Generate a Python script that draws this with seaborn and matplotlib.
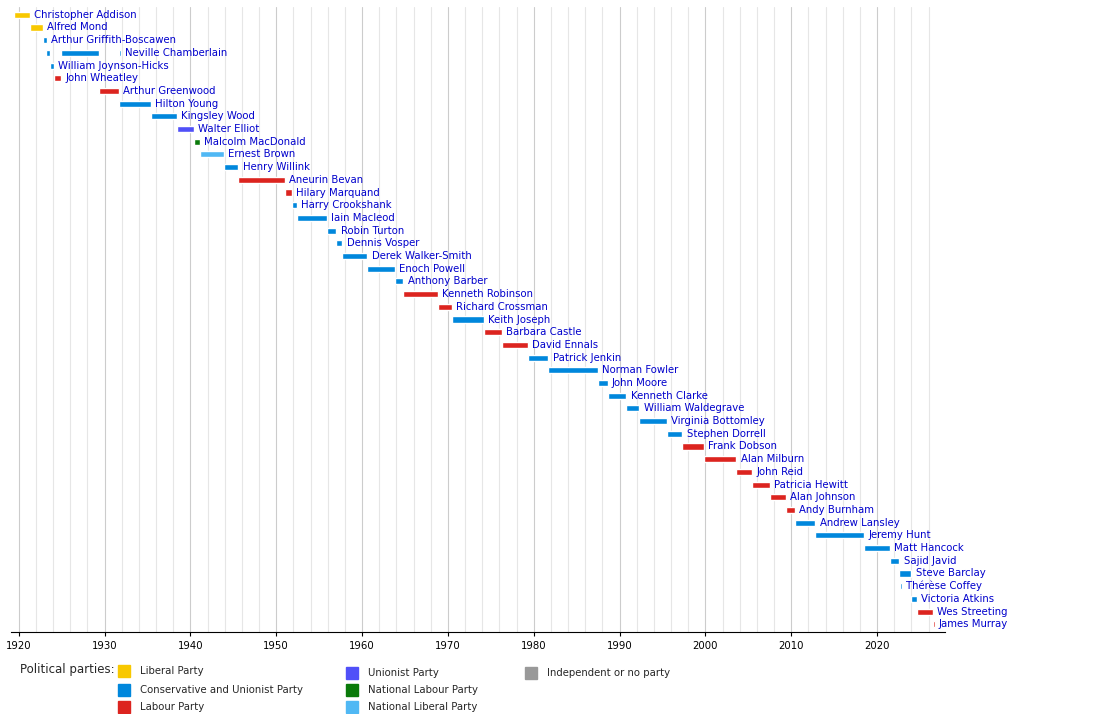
import matplotlib.pyplot as plt
from matplotlib.patches import Rectangle
import seaborn as sns

names = ["Christopher Addison", "Alfred Mond", "Arthur Griffith-Boscawen", "Neville Chamberlain",
         "William Joynson-Hicks", "John Wheatley", "Arthur Greenwood", "Hilton Young", "Kingsley Wood",
         "Walter Elliot", "Malcolm MacDonald", "Ernest Brown", "Henry Willink", "Aneurin Bevan",
         "Hilary Marquand", "Harry Crookshank", "Iain Macleod", "Robin Turton", "Dennis Vosper",
         "Derek Walker-Smith", "Enoch Powell", "Anthony Barber", "Kenneth Robinson", "Richard Crossman",
         "Keith Joseph", "Barbara Castle", "David Ennals", "Patrick Jenkin", "Norman Fowler", "John Moore",
         "Kenneth Clarke", "William Waldegrave", "Virginia Bottomley", "Stephen Dorrell", "Frank Dobson",
         "Alan Milburn", "John Reid", "Patricia Hewitt", "Alan Johnson", "Andy Burnham", "Andrew Lansley",
         "Jeremy Hunt", "Matt Hancock", "Sajid Javid", "Steve Barclay", "Thérèse Coffey", "Victoria Atkins",
         "Wes Streeting", "James Murray"]

# terms: (row, start, end, party)
terms = [
    (0, 1919.5, 1921.3, "Lib"), (1, 1921.3, 1922.8, "Lib"), (2, 1922.8, 1923.3, "Con"),
    (3, 1923.2, 1923.7, "Con"), (3, 1924.9, 1929.4, "Con"), (3, 1931.7, 1931.9, "Con"),
    (4, 1923.7, 1924.1, "Con"), (5, 1924.1, 1924.9, "Lab"), (6, 1929.4, 1931.7, "Lab"),
    (7, 1931.7, 1935.4, "Con"), (8, 1935.4, 1938.4, "Con"), (9, 1938.4, 1940.4, "Uni"),
    (10, 1940.4, 1941.1, "NatLab"), (11, 1941.1, 1943.9, "NatLib"), (12, 1943.9, 1945.6, "Con"),
    (13, 1945.6, 1951.0, "Lab"), (14, 1951.0, 1951.8, "Lab"), (15, 1951.8, 1952.4, "Con"),
    (16, 1952.4, 1955.9, "Con"), (17, 1955.9, 1957.0, "Con"), (18, 1957.0, 1957.7, "Con"),
    (19, 1957.7, 1960.6, "Con"), (20, 1960.6, 1963.8, "Con"), (21, 1963.8, 1964.8, "Con"),
    (22, 1964.8, 1968.8, "Lab"), (23, 1968.8, 1970.5, "Lab"), (24, 1970.5, 1974.2, "Con"),
    (25, 1974.2, 1976.3, "Lab"), (26, 1976.3, 1979.3, "Lab"), (27, 1979.3, 1981.7, "Con"),
    (28, 1981.7, 1987.5, "Con"), (29, 1987.5, 1988.6, "Con"), (30, 1988.6, 1990.8, "Con"),
    (31, 1990.8, 1992.3, "Con"), (32, 1992.3, 1995.5, "Con"), (33, 1995.5, 1997.3, "Con"),
    (34, 1997.3, 1999.8, "Lab"), (35, 1999.8, 2003.6, "Lab"), (36, 2003.6, 2005.4, "Lab"),
    (37, 2005.4, 2007.5, "Lab"), (38, 2007.5, 2009.4, "Lab"), (39, 2009.4, 2010.4, "Lab"),
    (40, 2010.4, 2012.8, "Con"), (41, 2012.8, 2018.5, "Con"), (42, 2018.5, 2021.5, "Con"),
    (43, 2021.5, 2022.6, "Con"), (44, 2022.6, 2024.0, "Con"), (45, 2022.7, 2022.9, "Con"),
    (46, 2023.9, 2024.6, "Con"), (47, 2024.6, 2026.5, "Lab"), (48, 2026.5, 2026.7, "Lab"),
]

party_names = {"Lib": "Liberal Party", "Con": "Conservative and Unionist Party", "Lab": "Labour Party",
               "Uni": "Unionist Party", "NatLab": "National Labour Party", "NatLib": "National Liberal Party",
               "Ind": "Independent or no party"}
party_colors = {"Lib": "#F8C800", "Con": "#0087DC", "Lab": "#DC241F", "Uni": "#5050F8",
                "NatLab": "#0A7A0A", "NatLib": "#50B8F4", "Ind": "#999999"}

sns.set_style("white")
plt.rcParams['font.family'] = ['DejaVu Sans']

fig = plt.figure(figsize=(11, 7.14), dpi=100)
ax = fig.add_axes([0.01, 0.115, 0.849, 0.875])

ax.set_xlim(1919.1, 2027.9)
ax.set_ylim(len(names) - 0.4, -0.6)
for yr in range(1920, 2028, 2):
    ax.axvline(yr, color="#cccccc" if yr % 10 == 0 else "#e6e6e6", lw=0.8, zorder=0)

last_end = {}
for row, s, e, p in terms:
    ax.barh(row, e - s, left=s, height=0.48, color=party_colors[p], zorder=2)
    last_end[row] = max(last_end.get(row, 0), e)
for row, name in enumerate(names):
    ax.text(last_end[row] + 0.5, row, name, va="center", ha="left", fontsize=7.3, color="#0000CC",
            zorder=3)

ax.set_yticks([])
ax.set_xticks(range(1920, 2030, 10))
ax.tick_params(axis="x", labelsize=7.3, length=3, colors="#000000", bottom=True)
for side in ["top", "right", "left"]:
    ax.spines[side].set_visible(False)
ax.spines["bottom"].set_color("#000000")

fig.text(20 / 1100, 1 - 670 / 714, "Political parties:", fontsize=8.5, va="center")
legend_pos = [("Lib", 118, 671), ("Con", 118, 690), ("Lab", 118, 707),
              ("Uni", 346, 673), ("NatLab", 346, 690), ("NatLib", 346, 707), ("Ind", 525, 673)]
for p, x, y in legend_pos:
    fig.add_artist(Rectangle((x / 1100, 1 - (y + 6) / 714), 12 / 1100, 12 / 714,
                             transform=fig.transFigure, color=party_colors[p]))
    fig.text((x + 22) / 1100, 1 - y / 714, party_names[p], fontsize=7.3, va="center")

fig.savefig("out.png", dpi=100)
